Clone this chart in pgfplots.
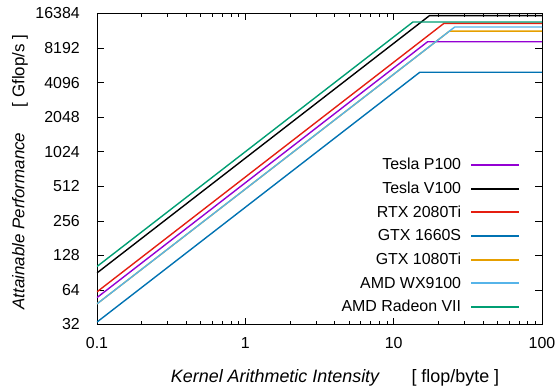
\documentclass[border=0pt]{standalone}
\usepackage{fontspec}
\setmainfont{Liberation Sans}
\usepackage{pgfplots}
\pgfplotsset{compat=1.18}
\definecolor{gpPurple}{HTML}{9400D3}
\definecolor{gpRed}{HTML}{E51E10}
\definecolor{gpBlue}{HTML}{0072B2}
\definecolor{gpOrange}{HTML}{E69F00}
\definecolor{gpLBlue}{HTML}{56B4E9}
\definecolor{gpGreen}{HTML}{009E73}
\newcommand{\fs}{\fontsize{16}{19}\selectfont}
\newcommand{\fx}{\fontsize{18}{21}\selectfont}
\newcommand{\fy}{\fontsize{17}{20}\selectfont}
\begin{document}
\begin{tikzpicture}
\begin{axis}[
  scale only axis, width=445bp, height=311bp,
  xmode=log, ymode=log, log basis y=2,
  xmin=0.1, xmax=100, ymin=32, ymax=16384,
  xtick={0.1,1,10,100}, xticklabels={0.1,1,10,100},
  ytick={32,64,128,256,512,1024,2048,4096,8192,16384},
  yticklabels={32,64,128,256,512,1024,2048,4096,8192,16384},
  minor ytick={},
  tick align=inside,
  major tick length=7bp, minor tick length=4bp,
  every tick/.style={black, line width=0.6pt},
  axis line style={line width=0.9pt},
  yticklabel style={font=\fs, anchor=east, inner sep=0pt, xshift=-17bp},
  xticklabel style={font=\fs, anchor=north, inner sep=0pt, yshift=-13bp},
  xlabel={\itshape Kernel Arithmetic Intensity\hspace{1.8em}\upshape[\ flop/byte\ ]},
  ylabel={\itshape Attainable Performance\hspace{1.5em}\upshape[\ Gflop/s\ ]},
  xlabel style={font=\fx, at={(axis description cs:0.535,-0.185)}, anchor=base},
  ylabel style={font=\fy, at={(axis description cs:-0.173,0.49)}, anchor=center},
  legend plot pos=right,
  legend image code/.code={\draw[#1, line width=2pt] (0bp,0bp) -- (48bp,0bp);},
  legend style={draw=none, fill=none, font=\fs,
    at={(axis description cs:0.958,0.548)}, anchor=north east,
    cells={anchor=east}, row sep=6.8bp, column sep=7bp},
  every axis plot/.append style={line width=1.4pt},
]
\addplot[gpPurple] coordinates {(0.1,54.9) (16.94,9300) (100,9300)};
\addlegendentry{Tesla P100}
\addplot[black] coordinates {(0.1,90) (17.44,15700) (100,15700)};
\addlegendentry{Tesla V100}
\addplot[gpRed] coordinates {(0.1,61.6) (21.83,13450) (100,13450)};
\addlegendentry{RTX 2080Ti}
\addplot[gpBlue] coordinates {(0.1,33.6) (15.0,5040) (100,5040)};
\addlegendentry{GTX 1660S}
\addplot[gpOrange] coordinates {(0.1,48.4) (23.8,11520) (100,11520)};
\addlegendentry{GTX 1080Ti}
\addplot[gpLBlue] coordinates {(0.1,48.4) (25.8,12490) (100,12490)};
\addlegendentry{AMD WX9100}
\addplot[gpGreen] coordinates {(0.1,102.4) (13.5,13824) (100,13824)};
\addlegendentry{AMD Radeon VII}
\end{axis}
\pgfresetboundingbox
\path (-97bp,-65.5bp) rectangle (463bp,324.5bp);
\end{tikzpicture}
\end{document}
